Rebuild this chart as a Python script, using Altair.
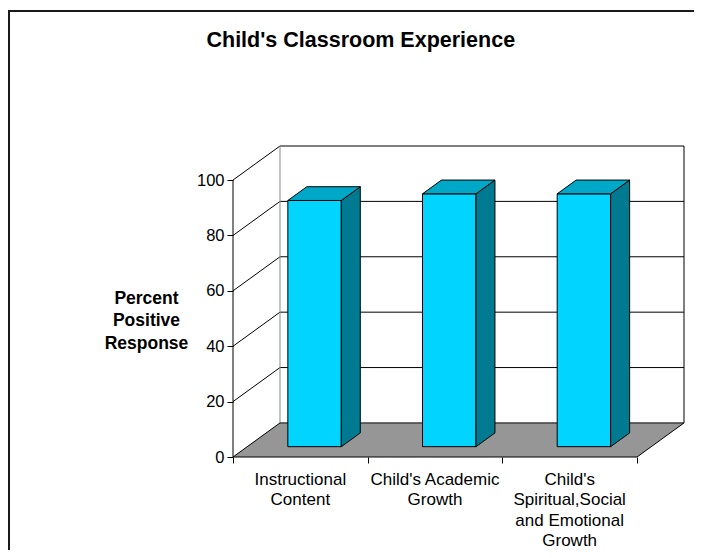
import altair as alt
import pandas as pd

# ---------------- data ----------------
TITLE = "Child's Classroom Experience"
Y_TITLE = ["Percent", "Positive", "Response"]
CATEGORIES = [
    "Instructional\nContent",
    "Child's Academic\nGrowth",
    "Child's\nSpiritual,Social\nand Emotional\nGrowth",
]
VALUES = [88.9, 91.3, 91.3]
Y_TICKS = [0, 20, 40, 60, 80, 100]
Y_MAX = 100

# ---------------- 3-D geometry (in data units) ----------------
N = len(CATEGORIES)
DX = 0.349      # depth shift along x (category units)
DY = 12.3       # depth shift along y (value units)
BAR_W = 0.397   # bar width (category units)
D0, D1 = 0.303, 0.707  # bar depth range (fraction of full depth)
FONT = "Liberation Sans"

FRONT = "#00D4FF"
TOP = "#00A8C8"
SIDE = "#007A90"
FLOOR = "#969696"

xs = alt.Scale(domain=[0, N + DX], nice=False, zero=False)
ys = alt.Scale(domain=[0, Y_MAX + DY], nice=False, zero=False)

AX = alt.Axis(values=list(range(N + 1)), labels=False, domain=False, grid=False,
              tickSize=6, tickColor="black", title=None)
AY = alt.Axis(values=Y_TICKS, domain=False, grid=False, tickSize=6, tickColor="black",
              labelFont=FONT, labelFontSize=16.5, labelColor="black", labelPadding=3,
              title=Y_TITLE, titleAngle=0, titleX=-87, titleY=157, titleAlign="center",
              titleBaseline="alphabetic", titleFont=FONT, titleFontSize=17.5,
              titleFontWeight="bold", titleColor="black", titleLineHeight=22.5)


def X(f="x:Q"):
    return alt.X(f, scale=xs, axis=AX)


def Y(f="y:Q"):
    return alt.Y(f, scale=ys, axis=AY)


# gridlines: left wall diagonal + back wall horizontal
grid_rows = []
for v in Y_TICKS[1:]:
    for s, (x, y) in enumerate([(0, v), (DX, v + DY), (N + DX, v + DY)]):
        grid_rows.append({"g": f"g{v}", "s": s, "x": x, "y": y})
grid_df = pd.DataFrame(grid_rows)

edge_df = pd.DataFrame([
    {"g": "right", "s": 0, "x": N + DX, "y": DY}, {"g": "right", "s": 1, "x": N + DX, "y": Y_MAX + DY},
    {"g": "front", "s": 0, "x": 0, "y": 0}, {"g": "front", "s": 1, "x": 0, "y": Y_MAX},
])
back_left_df = pd.DataFrame([
    {"g": "bl", "s": 0, "x": DX, "y": DY}, {"g": "bl", "s": 1, "x": DX, "y": Y_MAX + DY},
])

floor_df = pd.DataFrame([
    {"f": "floor", "y": 0, "x": 0, "x2": N},
    {"f": "floor", "y": DY, "x": DX, "x2": N + DX},
])

front_rows, side_rows, top_rows = [], [], []
for i, (c, v) in enumerate(zip(CATEGORIES, VALUES)):
    xl = i + 0.5 - BAR_W / 2
    xr = i + 0.5 + BAR_W / 2
    front_rows.append({"c": c, "x": xl + D0 * DX, "x2": xr + D0 * DX,
                       "y": D0 * DY, "y2": v + D0 * DY})
    for t in (D0, D1):
        side_rows.append({"c": c, "x": xr + t * DX, "y": t * DY, "y2": v + t * DY})
        top_rows.append({"c": c, "y": v + t * DY, "x": xl + t * DX, "x2": xr + t * DX})
front_df = pd.DataFrame(front_rows)
side_df = pd.DataFrame(side_rows)
top_df = pd.DataFrame(top_rows)

label_df = pd.DataFrame({"label": CATEGORIES, "x": [i + 0.5 for i in range(N)], "y": [0] * N})

# ---------------- layers ----------------
grid = alt.Chart(grid_df).mark_line(color="black", strokeWidth=1).encode(
    x=X(), y=Y(), detail="g:N", order="s:Q",
)

back_left = alt.Chart(back_left_df).mark_line(color="#8a8a8a", strokeWidth=1).encode(
    x=X(), y=Y(), detail="g:N", order="s:Q",
)

edges = alt.Chart(edge_df).mark_line(color="black", strokeWidth=1).encode(
    x=X(), y=Y(), detail="g:N", order="s:Q",
)

floor = alt.Chart(floor_df).mark_area(
    orient="horizontal", fill=FLOOR, stroke="black", strokeWidth=1, opacity=1
).encode(
    y=Y(), x=X(), x2="x2:Q", detail="f:N",
)

front = alt.Chart(front_df).mark_rect(fill=FRONT, stroke="black", strokeWidth=1).encode(
    x=X(), x2="x2:Q", y=Y(), y2="y2:Q",
)

side = alt.Chart(side_df).mark_area(
    orient="vertical", fill=SIDE, stroke="black", strokeWidth=1, opacity=1
).encode(
    x=X(), y=Y(), y2="y2:Q", detail="c:N",
)

top = alt.Chart(top_df).mark_area(
    orient="horizontal", fill=TOP, stroke="black", strokeWidth=1, opacity=1
).encode(
    y=Y(), x=X(), x2="x2:Q", detail="c:N",
)

labels = alt.Chart(label_df).mark_text(
    lineBreak="\n", align="center", baseline="alphabetic", dy=27.5,
    font=FONT, fontSize=17, lineHeight=20.5, color="black",
).encode(
    x=X(), y=Y(), text="label:N",
)

title = alt.Chart(pd.DataFrame({"t": [TITLE]})).mark_text(
    align="center", baseline="alphabetic", font=FONT, fontSize=21.5,
    fontWeight="bold", color="black",
).encode(x=alt.value(127.8), y=alt.value(-99.3), text="t:N")

one = pd.DataFrame({"k": [0]})
frame_top = alt.Chart(one).mark_rule(color="#1a1a1a", strokeWidth=2).encode(
    x=alt.value(-225), x2=alt.value(470), y=alt.value(-135))
frame_left = alt.Chart(one).mark_rule(color="#1a1a1a", strokeWidth=2).encode(
    x=alt.value(-224), y=alt.value(-135), y2=alt.value(420))

chart = alt.layer(
    grid, back_left, edges, floor, front, side, top, labels, title, frame_top, frame_left
).properties(
    width=451, height=311,
    autosize=alt.AutoSizeParams(type="none"),
    padding={"left": 225, "top": 138, "right": 10, "bottom": 93},
    background="white",
).configure_view(stroke=None)

chart.save("out.html", embed_options={"renderer": "svg", "actions": False})
